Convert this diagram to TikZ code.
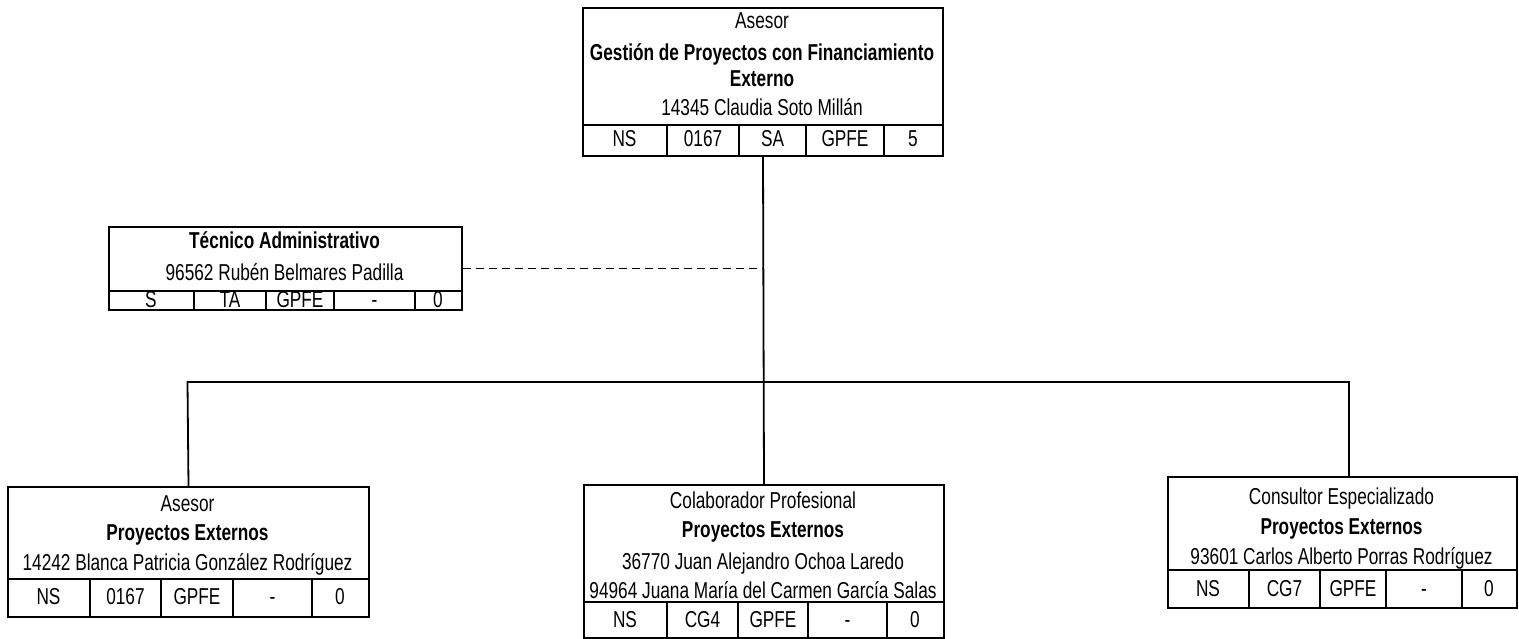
\documentclass[tikz,border=0pt]{standalone}
\usepackage{fontspec}
\setmainfont[FakeStretch=0.75]{Liberation Sans}
\begin{document}
\begin{tikzpicture}[x=1pt,y=-1pt,
  box/.style={draw, line width=2pt, anchor=north west, inner sep=0pt},
  rule/.style={line width=2pt},
  conn/.style={line width=1.8pt},
  dconn/.style={line width=1.8pt, dash pattern=on 8pt off 5pt},
  txt/.style={inner sep=0pt, anchor=base, font=\fontsize{23}{27}\selectfont},
  btxt/.style={txt, font=\fontsize{23}{27}\selectfont\bfseries}]
\useasboundingbox (0,0) rectangle (1519,639);

% ---- top box
\node[box, minimum width=360pt, minimum height=148pt] (top) at (582,7) {};
\draw[rule] (582,125) -- (942,125);
\foreach \x in {667,739,806,884} \draw[rule] (\x,125) -- (\x,155);
\node[txt] (t1) at (762,29) {Asesor};
\node[btxt] (t2) at (762,61) {Gestión de Proyectos con Financiamiento};
\node[btxt] (t3) at (762,87) {Externo};
\node[txt] (t4) at (762,116) {14345 Claudia Soto Millán};
\foreach \t/\x [count=\i] in {NS/624.5,0167/703,SA/772.5,GPFE/845,5/913}
  \node[txt] (tc\i) at (\x,147) {\t};

% ---- technician box
\node[box, minimum width=353pt, minimum height=83pt] (tech) at (108,226) {};
\draw[rule] (108,291) -- (461,291);
\foreach \x in {194,266,334,415} \draw[rule] (\x,291) -- (\x,309);
\node[btxt] (a1) at (284.5,249) {Técnico Administrativo};
\node[txt] (a2) at (284.5,281) {96562 Rubén Belmares Padilla};
\foreach \t/\x [count=\i] in {S/151,TA/230,GPFE/300,-/374.5,0/438}
  \node[txt] (ac\i) at (\x,307.5) {\t};

% ---- left bottom box
\node[box, minimum width=361pt, minimum height=130pt] (left) at (7,486) {};
\draw[rule] (7,579) -- (368,579);
\foreach \x in {90,161,233,312} \draw[rule] (\x,579) -- (\x,616);
\node[txt] (l1) at (187.5,511) {Asesor};
\node[btxt] (l2) at (187.5,540) {Proyectos Externos};
\node[txt] (l3) at (187.5,570) {14242 Blanca Patricia González Rodríguez};
\foreach \t/\x [count=\i] in {NS/48.5,0167/125.5,GPFE/197,-/272.5,0/340}
  \node[txt] (lc\i) at (\x,604) {\t};

% ---- middle bottom box
\node[box, minimum width=360pt, minimum height=153pt] (mid) at (583,484) {};
\draw[rule] (583,602) -- (943,602);
\foreach \x in {667,738,808,887} \draw[rule] (\x,602) -- (\x,637);
\node[txt] (m1) at (763,508) {Colaborador Profesional};
\node[btxt] (m2) at (763,537) {Proyectos Externos};
\node[txt] (m3) at (763,569) {36770 Juan Alejandro Ochoa Laredo};
\node[txt] (m4) at (763,598) {94964 Juana María del Carmen García Salas};
\foreach \t/\x [count=\i] in {NS/625,CG4/702.5,GPFE/773,-/847.5,0/915}
  \node[txt] (mc\i) at (\x,627) {\t};

% ---- right bottom box
\node[box, minimum width=349pt, minimum height=131pt] (right) at (1167,476) {};
\draw[rule] (1167,570) -- (1516,570);
\foreach \x in {1249,1320,1386,1462} \draw[rule] (\x,570) -- (\x,607);
\node[txt] (r1) at (1341.5,504) {Consultor Especializado};
\node[btxt] (r2) at (1341.5,534) {Proyectos Externos};
\node[txt] (r3) at (1341.5,564) {93601 Carlos Alberto Porras Rodríguez};
\foreach \t/\x [count=\i] in {NS/1208,CG7/1284.5,GPFE/1353,-/1424,0/1489}
  \node[txt] (rc\i) at (\x,596) {\t};

% ---- connectors
\coordinate (hl) at (187.5,382);
\coordinate (hr) at (1349,382);
\draw[conn] (top.south) -- (mid.north);
\draw[dconn] (tech.east) -- (tech.east -| top.south);
\draw[conn] (left.north) -- (hl) -- (hr) -- (hr |- right.north);
\end{tikzpicture}
\end{document}
